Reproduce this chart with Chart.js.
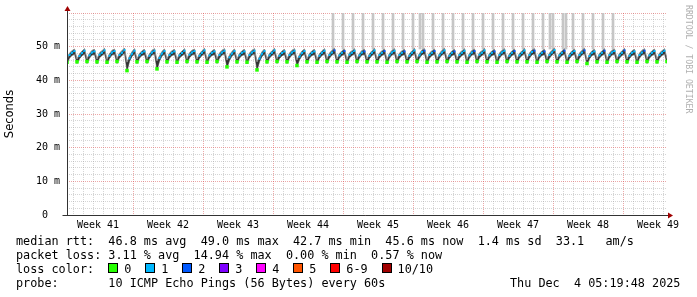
<!DOCTYPE html>
<html>
<head>
<meta charset="utf-8">
<script src="https://cdn.jsdelivr.net/npm/chart.js@4.4.1/dist/chart.umd.min.js"></script>
<style>
  html, body { margin: 0; padding: 0; background: #fff; }
  #wrap { position: relative; width: 697px; height: 297px; overflow: hidden; }
  #chart { position: absolute; left: 0; top: 0; }
  .leg { position: absolute; left: 16px; font: 11.8px "DejaVu Sans Mono", monospace; line-height: 14px; white-space: pre; color: #000; }
  .item { display: inline-block; margin-right: 13.9px; }
  .box { display: inline-block; width: 8px; height: 8px; border: 1px solid #000; margin-right: 6px; vertical-align: 0; }
</style>
</head>
<body>
<div id="wrap">
  <canvas id="chart" width="697" height="297"></canvas>
  <div class="leg" id="l1" style="top:234px"></div>
  <div class="leg" id="l2" style="top:248px"></div>
  <div class="leg" id="l3" style="top:262px"></div>
  <div class="leg" id="l4" style="top:276px"></div>
  <div class="leg" id="l5" style="top:276px;left:510px"></div>
</div>
<script>
// RRD samples: one every 0.25 day, first one at day -0.6 (day 0 = first midnight gridline)
const sampleStart = -0.6;
const sampleStep = 0.25;

// median rtt in ms, 4 samples per daily cycle (low, rise, rise, peak)
const median = [
  45.4,47.5,48.2,48.7, 45.5,47.2,48.1,48.8, 45.6,47.4,48.3,48.6, 45.5,47.6,48.2,48.9,
  45.4,47.3,48.3,48.7, 45.6,47.5,48.2,49.0, 42.9,46.5,47.9,48.8, 45.5,47.4,48.2,48.6,
  45.6,47.3,48.3,48.8, 43.4,46.6,48.0,48.7, 45.5,47.5,48.2,48.6, 45.4,47.4,48.1,48.8,
  45.6,47.6,48.3,48.7, 45.5,47.3,48.2,48.9, 45.4,47.4,48.2,48.6, 45.6,47.5,48.3,48.8,
  44.0,46.8,48.0,48.7, 45.5,47.4,48.2,48.6, 45.4,47.5,48.3,48.8, 43.1,46.4,47.9,48.7,
  45.5,47.4,48.2,48.9, 45.6,47.3,48.1,48.6, 45.5,47.5,48.3,48.8, 44.4,47.0,48.1,48.7,
  45.5,47.4,48.2,48.6, 45.4,47.3,48.2,48.8, 45.6,47.5,48.3,48.9, 45.5,47.4,48.2,48.7,
  45.4,47.6,48.2,48.8, 45.6,47.4,48.3,48.6, 45.5,47.3,48.2,48.9, 45.5,47.5,48.2,48.7,
  45.4,47.4,48.3,48.8, 45.6,47.5,48.2,48.6, 45.5,47.3,48.2,48.9, 45.6,47.4,48.4,48.8,
  45.4,47.5,48.2,48.7, 45.5,47.4,48.3,48.9, 45.6,47.3,48.2,48.6, 45.5,47.5,48.2,48.8,
  45.4,47.4,48.3,48.7, 45.6,47.6,48.2,48.9, 45.5,47.4,48.2,48.6, 45.4,47.5,48.3,48.8,
  45.6,47.3,48.2,48.7, 45.5,47.4,48.2,48.9, 45.5,47.5,48.4,48.8, 45.4,47.4,48.2,48.6,
  45.6,47.5,48.3,49.0, 45.5,47.4,48.2,48.8, 45.4,47.3,48.2,48.7, 45.6,47.5,48.3,48.9,
  45.0,47.2,48.2,48.6, 45.5,47.4,48.2,48.8, 45.4,47.5,48.3,48.7, 45.6,47.4,48.2,48.9,
  45.5,47.3,48.2,48.6, 45.4,47.5,48.3,48.8, 45.6,47.4,48.2,48.7, 45.5,47.5,48.2,48.8,
  45.6,
];

// smoke: lowest and highest ping of each sample
const smokeLo = [
  44.9,46.6,47.4,47.8, 45.0,46.4,47.3,47.9, 45.0,46.6,47.5,47.7, 44.9,46.7,47.4,48.0,
  44.9,46.5,47.5,47.8, 45.0,46.6,47.4,48.1, 42.7,45.6,47.1,47.9, 45.0,46.6,47.4,47.7,
  45.0,46.5,47.5,47.9, 43.1,45.7,47.2,47.8, 45.0,46.6,47.4,47.7, 44.9,46.6,47.3,47.9,
  45.0,46.7,47.5,47.8, 45.0,46.5,47.4,48.0, 44.9,46.6,47.4,47.7, 45.0,46.6,47.5,47.9,
  43.7,45.9,47.2,47.8, 45.0,46.6,47.4,47.7, 44.9,46.6,47.5,47.9, 42.9,45.5,47.1,47.8,
  45.0,46.6,47.4,48.0, 45.0,46.5,47.3,47.7, 45.0,46.6,47.5,47.9, 44.1,46.1,47.3,47.8,
  45.0,46.6,47.4,47.7, 44.9,46.5,47.4,47.9, 45.0,46.6,47.5,48.0, 45.0,46.6,47.4,47.8,
  44.9,46.7,47.4,47.9, 45.0,46.6,47.5,47.7, 45.0,46.5,47.4,48.0, 45.0,46.6,47.4,47.8,
  44.9,46.6,47.5,47.9, 45.0,46.6,47.4,47.7, 45.0,46.5,47.4,48.0, 45.0,46.6,47.6,47.9,
  44.9,46.6,47.4,47.8, 45.0,46.6,47.5,48.0, 45.0,46.5,47.4,47.7, 45.0,46.6,47.4,47.9,
  44.9,46.6,47.5,47.8, 45.0,46.7,47.4,48.0, 45.0,46.6,47.4,47.7, 44.9,46.6,47.5,47.9,
  45.0,46.5,47.4,47.8, 45.0,46.6,47.4,48.0, 45.0,46.6,47.6,47.9, 44.9,46.6,47.4,47.7,
  45.0,46.6,47.5,48.1, 45.0,46.6,47.4,47.9, 44.9,46.5,47.4,47.8, 45.0,46.6,47.5,48.0,
  44.7,46.4,47.4,47.7, 45.0,46.6,47.4,47.9, 44.9,46.6,47.5,47.8, 45.0,46.6,47.4,48.0,
  45.0,46.5,47.4,47.7, 44.9,46.6,47.5,47.9, 45.0,46.6,47.4,47.8, 45.0,46.6,47.4,47.9,
  45.0,
];
const smokeHi = [
  46.2,48.1,48.8,49.3, 46.3,47.8,48.7,49.4, 46.4,48.0,48.9,49.2, 46.3,48.2,48.8,49.5,
  46.2,47.9,48.9,49.3, 46.4,48.1,48.8,49.6, 45.4,47.2,48.5,49.4, 46.3,48.0,48.8,49.2,
  46.4,47.9,48.9,49.4, 45.8,47.3,48.6,49.3, 46.3,48.1,48.8,49.2, 46.2,48.0,48.7,49.4,
  46.4,48.2,48.9,49.3, 46.3,47.9,48.8,49.5, 46.2,48.0,48.8,49.2, 46.4,48.1,48.9,49.4,
  46.0,47.5,48.6,49.3, 46.3,48.0,48.8,49.2, 46.2,48.1,48.9,49.4, 45.5,47.1,48.5,49.3,
  46.3,48.0,48.8,49.5, 46.4,47.9,48.7,49.2, 46.3,48.1,48.9,49.4, 46.1,47.6,48.7,49.3,
  46.3,48.0,48.8,49.2, 46.2,47.9,48.8,49.4, 46.4,48.1,48.9,49.5, 46.3,48.0,48.8,49.3,
  46.2,48.2,48.8,49.4, 46.4,48.0,48.9,49.2, 46.3,47.9,48.8,49.5, 46.3,48.1,48.8,49.3,
  46.2,48.0,48.9,49.4, 46.4,48.1,48.8,49.2, 46.3,47.9,48.8,49.5, 46.4,48.0,49.0,49.4,
  46.2,48.1,48.8,49.3, 46.3,48.0,48.9,49.5, 46.4,47.9,48.8,49.2, 46.3,48.1,48.8,49.4,
  46.2,48.0,48.9,49.3, 46.4,48.2,48.8,49.5, 46.3,48.0,48.8,49.2, 46.2,48.1,48.9,49.4,
  46.4,47.9,48.8,49.3, 46.3,48.0,48.8,49.5, 46.3,48.1,49.0,49.4, 46.2,48.0,48.8,49.2,
  46.4,48.1,48.9,49.6, 46.3,48.0,48.8,49.4, 46.2,47.9,48.8,49.3, 46.4,48.1,48.9,49.5,
  46.0,47.8,48.8,49.2, 46.3,48.0,48.8,49.4, 46.2,48.1,48.9,49.3, 46.4,48.0,48.8,49.5,
  46.3,47.9,48.8,49.2, 46.2,48.1,48.9,49.4, 46.4,48.0,48.8,49.3, 46.3,48.1,48.8,49.4,
  46.4,
];

// lost pings (out of 10) per sample, as index into lossColors
const loss = [
  0,1,1,1, 0,1,1,1, 0,1,1,1, 0,1,1,1,  0,1,1,1, 0,1,1,1, 0,1,1,1, 0,1,1,1,
  0,1,1,1, 0,1,1,1, 0,1,1,1, 0,1,1,1,  0,1,1,1, 0,1,1,1, 0,1,1,1, 0,1,1,1,
  0,1,1,1, 0,1,1,1, 0,1,1,1, 0,1,1,1,  0,1,1,1, 0,1,1,1, 0,1,1,1, 0,1,1,1,
  0,1,1,1, 0,1,1,1, 0,1,1,2, 0,1,1,2,  0,1,1,1, 0,1,1,2, 0,1,1,1, 0,1,1,2,
  0,1,1,1, 0,1,1,2, 0,1,1,1, 0,1,1,2,  0,1,1,2, 0,1,1,1, 0,1,1,2, 0,1,1,1,
  0,1,1,2, 0,1,1,1, 0,1,1,2, 0,1,1,1,  0,1,1,2, 0,1,1,1, 0,1,1,2, 0,1,1,2,
  0,1,1,1, 0,1,1,2, 0,1,1,1, 0,1,1,2,  0,1,1,1, 0,1,1,2, 0,1,1,1, 0,1,1,2,
  0,1,1,1, 0,1,1,2, 0,1,1,1, 0,1,1,1,
  0,
];

// max ping far above the plot (clipped at the top)
const spikeTimes = [26, 27, 28, 29, 30, 31, 32, 33, 34, 34.7, 35, 36, 37, 38, 39, 40, 41,
  42, 43, 44, 45, 46, 47, 47.7, 48, 49, 49.3, 50, 51, 52, 53, 54];
const spikeBase = 49.3;
const spikeTop = 60;

const lossColors = ['#26ff00', '#00b8ff', '#0059ff', '#7e00ff', '#ff00ff', '#ff5500', '#ff0000', '#a10000'];
const lossLabels = ['0', '1', '2', '3', '4', '5', '6-9', '10/10'];

const weekTicks = [2.5, 9.5, 16.5, 23.5, 30.5, 37.5, 44.5, 51.5, 58.5];
const weekLabels = ['Week 41', 'Week 42', 'Week 43', 'Week 44', 'Week 45', 'Week 46', 'Week 47', 'Week 48', 'Week 49'];
const weekStarts = [6, 13, 20, 27, 34, 41, 48, 55];

const statsRtt = 'median rtt:  46.8 ms avg  49.0 ms max  42.7 ms min  45.6 ms now  1.4 ms sd  33.1   am/s';
const statsLoss = 'packet loss: 3.11 % avg  14.94 % max  0.00 % min  0.57 % now';
const probeText = 'probe:       10 ICMP Echo Pings (56 Bytes) every 60s';
const stampText = 'Thu Dec  4 05:19:48 2025';

const MONO = '"DejaVu Sans Mono", monospace';
const minorGrid = 'rgba(150,150,150,0.4)';
const majorGrid = 'rgba(215,60,60,0.45)';
const axisColor = '#333';
const arrowColor = '#a00000';
const smokeFill = '#333';
const smokeEdge = '#8c8c8c';

// text legend under the graph
document.getElementById('l1').textContent = statsRtt;
document.getElementById('l2').textContent = statsLoss;
document.getElementById('l4').textContent = probeText;
document.getElementById('l5').textContent = stampText;
const l3 = document.getElementById('l3');
l3.textContent = 'loss color:  ';
lossColors.forEach((c, i) => {
  const item = document.createElement('span');
  item.className = 'item';
  const box = document.createElement('span');
  box.className = 'box';
  box.style.background = c;
  item.appendChild(box);
  item.appendChild(document.createTextNode(lossLabels[i]));
  l3.appendChild(item);
});

const pts = arr => arr.map((v, i) => ({ x: sampleStart + i * sampleStep, y: v }));

const axisPlugin = {
  id: 'rrd-axes',
  afterDraw(chart) {
    const { ctx, chartArea: a } = chart;
    const x0 = Math.round(a.left) + 0.5;
    const y0 = Math.round(a.bottom) + 0.5;
    ctx.save();
    ctx.strokeStyle = axisColor;
    ctx.lineWidth = 1;
    ctx.beginPath();
    ctx.moveTo(x0 - 5, y0);
    ctx.lineTo(a.right + 2, y0);
    ctx.moveTo(x0, y0);
    ctx.lineTo(x0, a.top - 2);
    ctx.stroke();
    ctx.fillStyle = arrowColor;
    ctx.beginPath();
    ctx.moveTo(x0 - 3, a.top - 2);
    ctx.lineTo(x0 + 3, a.top - 2);
    ctx.lineTo(x0, a.top - 7);
    ctx.closePath();
    ctx.fill();
    ctx.beginPath();
    ctx.moveTo(a.right + 1, y0 - 3);
    ctx.lineTo(a.right + 1, y0 + 3);
    ctx.lineTo(a.right + 6, y0);
    ctx.closePath();
    ctx.fill();
    // vertical credit on the right edge
    ctx.translate(688, 5);
    ctx.rotate(Math.PI / 2);
    ctx.font = '8.2px ' + MONO;
    ctx.fillStyle = '#b0b0b0';
    ctx.textAlign = 'left';
    ctx.textBaseline = 'middle';
    ctx.fillText('RRDTOOL / TOBI OETIKER', 0, 0);
    ctx.restore();
  },
};

new Chart(document.getElementById('chart'), {
  type: 'line',
  data: {
    datasets: [
      {
        // median line only joins neighbours in the same loss bucket, like smokeping
        label: 'median', data: pts(median), order: 0,
        borderWidth: 1, tension: 0, fill: false,
        borderColor: lossColors[0],
        segment: {
          borderColor: c => loss[c.p0DataIndex] === loss[c.p1DataIndex]
            ? lossColors[loss[c.p1DataIndex]] : 'rgba(0,0,0,0)',
        },
        pointStyle: 'rect', pointBorderWidth: 0,
        pointRadius: c => (loss[c.dataIndex] === 0 ? 2.5 : 1.4),
        pointBackgroundColor: c => lossColors[loss[c.dataIndex]],
      },
      {
        label: 'smoke hi', data: pts(smokeHi), order: 2,
        borderColor: smokeEdge, backgroundColor: smokeFill, borderWidth: 1,
        pointRadius: 0, tension: 0, fill: '+1',
      },
      {
        label: 'smoke lo', data: pts(smokeLo), order: 2,
        borderColor: smokeEdge, borderWidth: 1, pointRadius: 0, tension: 0, fill: false,
      },
      {
        type: 'bar', label: 'max ping', order: 3,
        data: spikeTimes.map(t => ({ x: t, y: [spikeBase, spikeTop] })),
        backgroundColor: '#c6c6c6', borderWidth: 0, barThickness: 2, grouped: false,
      },
    ],
  },
  options: {
    responsive: false, animation: false, events: [],
    layout: { padding: { left: 0, top: 12, right: 30, bottom: 62 } },
    plugins: { legend: { display: false }, tooltip: { enabled: false } },
    scales: {
      x: {
        type: 'linear', min: sampleStart, max: sampleStart + (median.length - 1) * sampleStep,
        offset: false,
        afterBuildTicks: s => {
          const vals = [];
          for (let d = 0; d < 60; d++) vals.push(d);
          s.ticks = vals.concat(weekTicks).sort((p, q) => p - q).map(v => ({ value: v }));
        },
        afterFit: s => { s.height = 20; },
        grid: {
          offset: false, drawTicks: false, lineWidth: 1,
          color: c => {
            const v = c.tick.value;
            if (weekTicks.includes(v)) return 'rgba(0,0,0,0)';
            return weekStarts.includes(v) ? majorGrid : minorGrid;
          },
        },
        border: { display: false, dash: [1, 1] },
        ticks: {
          autoSkip: false, maxRotation: 0, padding: 4, color: '#000',
          font: { family: MONO, size: 10 },
          callback: v => { const i = weekTicks.indexOf(v); return i < 0 ? '' : weekLabels[i]; },
        },
      },
      y: {
        min: 0, max: 60,
        afterBuildTicks: s => {
          const vals = [];
          for (let v = 0; v <= 60; v += 2) vals.push({ value: v });
          s.ticks = vals;
        },
        afterFit: s => { s.width = 67; },
        grid: {
          drawTicks: false, lineWidth: 1,
          color: c => (c.tick.value % 10 === 0 ? majorGrid : minorGrid),
        },
        border: { display: false, dash: [1, 1] },
        title: { display: true, text: 'Seconds', color: '#000', padding: { top: 3, bottom: 0 },
                 font: { family: '"DejaVu Sans", sans-serif', size: 11.5, weight: 'normal' } },
        ticks: {
          autoSkip: false, padding: 7, color: '#000',
          font: { family: MONO, size: 10 },
          callback: v => (v % 10 !== 0 || v === 60) ? '' : (v === 0 ? '0  ' : v + ' m'),
        },
      },
    },
  },
  plugins: [axisPlugin],
});
</script>
</body>
</html>
